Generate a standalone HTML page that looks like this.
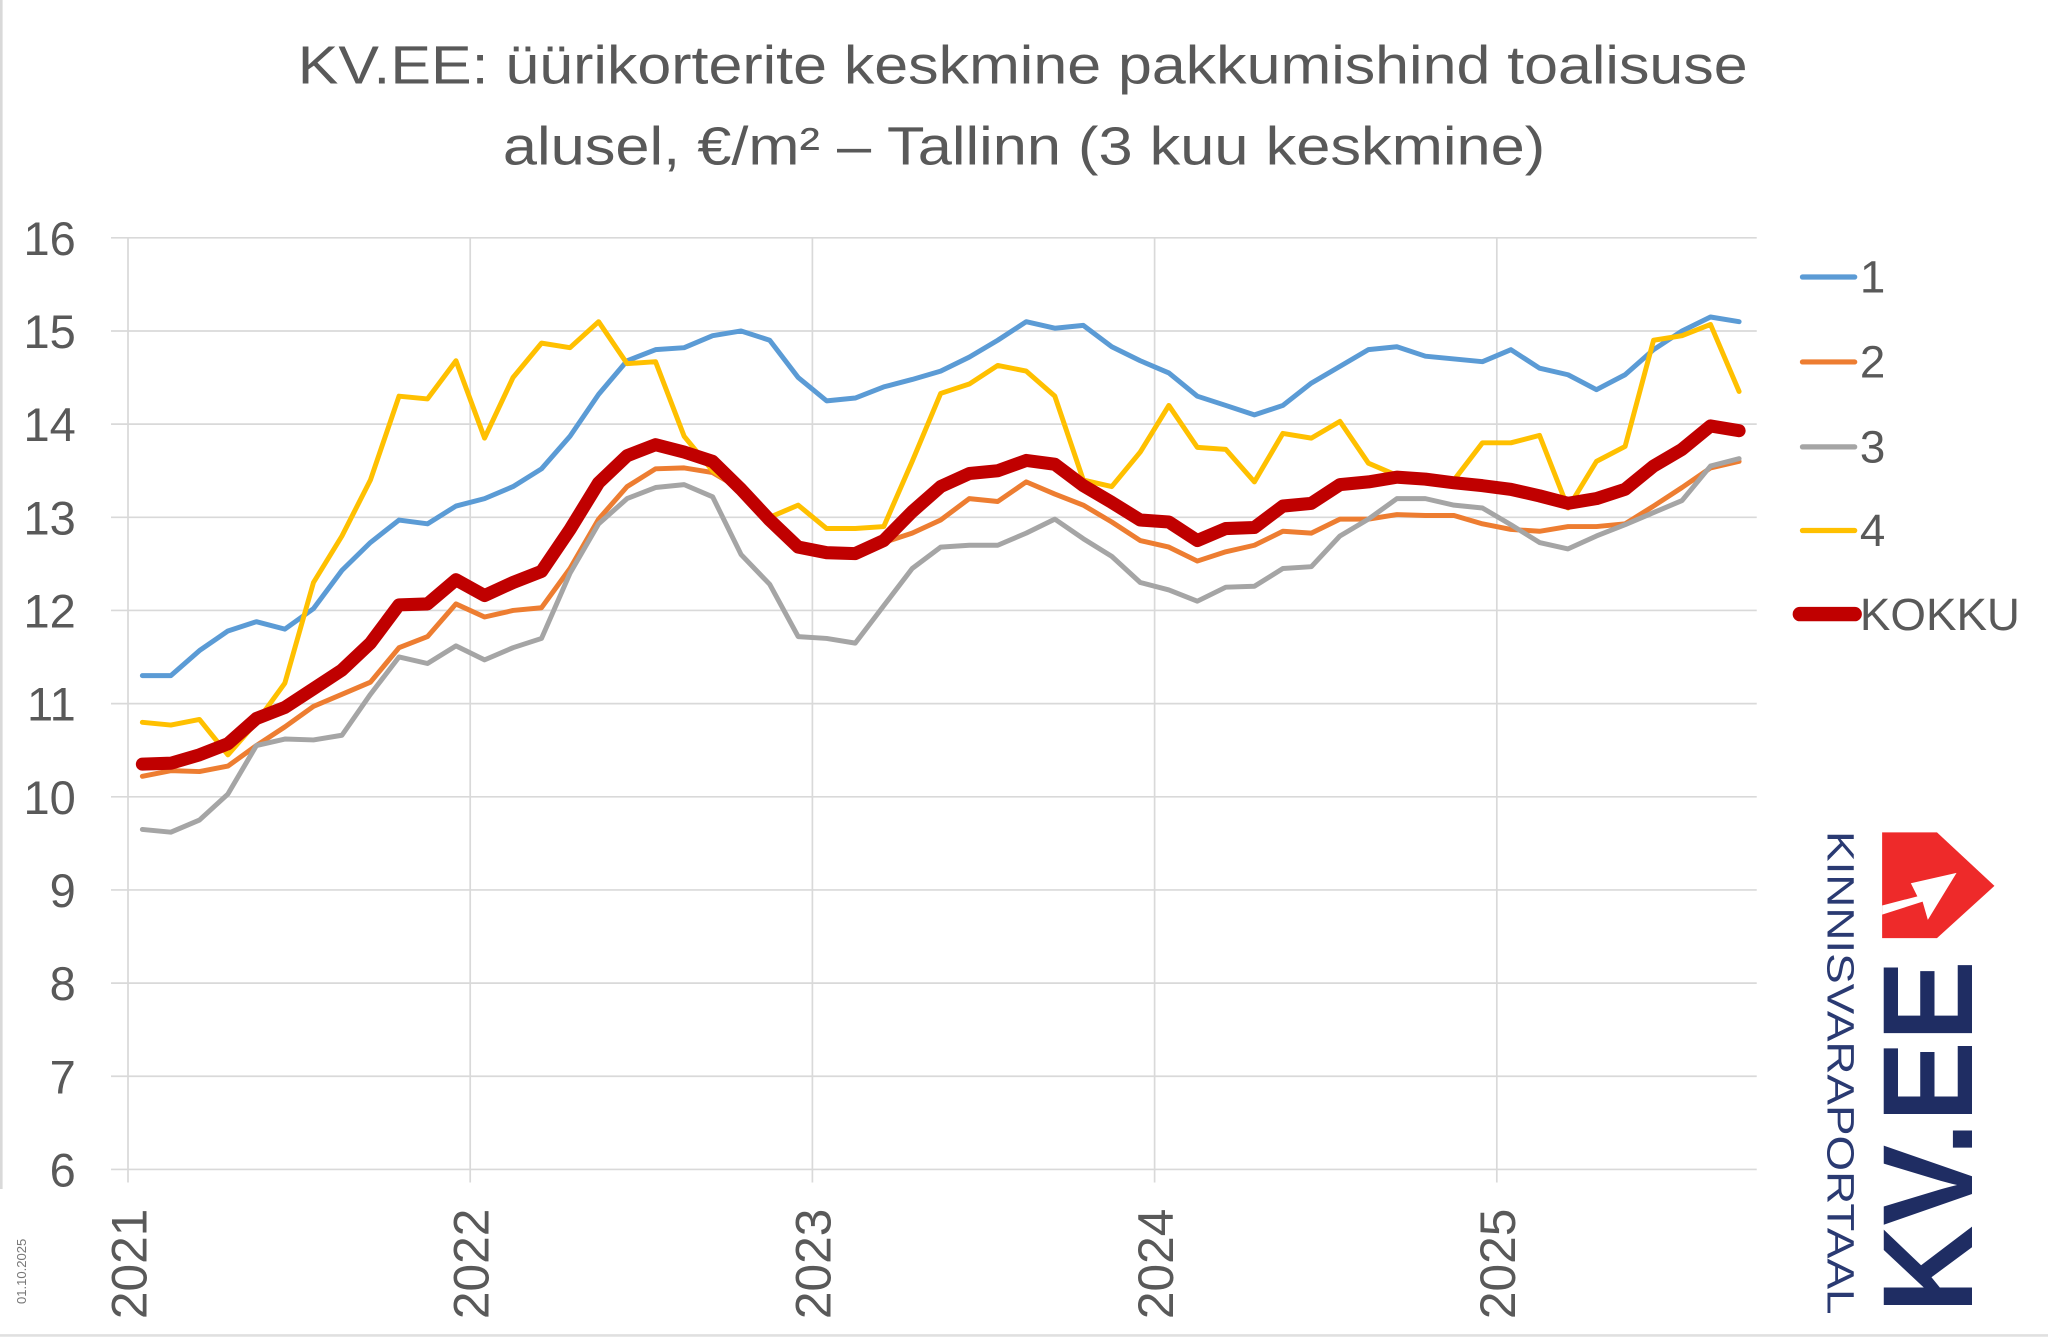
<!DOCTYPE html>
<html><head><meta charset="utf-8"><style>
html,body{margin:0;padding:0;background:#fff}
svg{display:block}
text{font-family:"Liberation Sans",sans-serif}
</style></head><body>
<svg id="s" width="2048" height="1338" viewBox="0 0 1568 1024" preserveAspectRatio="none">
<rect width="1568" height="1024" fill="#fff"/>
<line x1="1" y1="0" x2="1" y2="910" stroke="#d9d9d9" stroke-width="2"/>
<line x1="0" y1="1022" x2="1568" y2="1022" stroke="#e0e0e0" stroke-width="2"/>
<text x="228" y="64" font-size="41" fill="#595959" textLength="1110" lengthAdjust="spacingAndGlyphs">KV.EE: üürikorterite keskmine pakkumishind toalisuse</text>
<text x="385" y="126" font-size="41" fill="#595959" textLength="798" lengthAdjust="spacingAndGlyphs">alusel, €/m² – Tallinn (3 kuu keskmine)</text>
<g id="grid" stroke="#d9d9d9" stroke-width="1.3"></g>
<g id="ylab" font-size="36" fill="#595959" text-anchor="end"></g>
<g font-size="38" fill="#595959" text-anchor="end">
<text transform="translate(112,925) rotate(-90)">2021</text>
<text transform="translate(374,925) rotate(-90)">2022</text>
<text transform="translate(636,925) rotate(-90)">2023</text>
<text transform="translate(898,925) rotate(-90)">2024</text>
<text transform="translate(1160,925) rotate(-90)">2025</text>
</g>
<text transform="translate(20,998) rotate(-90)" font-size="10" fill="#777">01.10.2025</text>
<g id="series" fill="none" stroke-linejoin="round" stroke-linecap="round"></g>
<g stroke-linecap="round">
<line x1="1380" y1="212" x2="1420" y2="212" stroke="#5b9bd5" stroke-width="4"/>
<line x1="1380" y1="277" x2="1420" y2="277" stroke="#ed7d31" stroke-width="4"/>
<line x1="1380" y1="342" x2="1420" y2="342" stroke="#a5a5a5" stroke-width="4"/>
<line x1="1380" y1="406" x2="1420" y2="406" stroke="#ffc000" stroke-width="4"/>
<line x1="1378" y1="470" x2="1420" y2="470" stroke="#c00000" stroke-width="11"/>
</g>
<g font-size="35" fill="#595959">
<text x="1424" y="224">1</text><text x="1424" y="289">2</text><text x="1424" y="354">3</text><text x="1424" y="418">4</text><text x="1424" y="482">KOKKU</text>
</g>
<polygon points="1441,637 1483,637 1527,678 1483,718 1441,718" fill="#ee2a2a"/>
<polygon points="1441,700 1472,690 1476,704 1498,668 1463,676 1468,686 1441,693" fill="#fff"/>
<text transform="translate(1510,1005) rotate(-90)" font-size="98" font-weight="bold" fill="#1f2d63" textLength="270" lengthAdjust="spacingAndGlyphs">KV.EE</text>
<text transform="translate(1399,636) rotate(90)" font-size="29" fill="#2a3a72" textLength="370" lengthAdjust="spacingAndGlyphs">KINNISVARAPORTAAL</text>
</svg>
<script>
var NS="http://www.w3.org/2000/svg";
function el(p,t,a,txt){var e=document.createElementNS(NS,t);for(var k in a)e.setAttribute(k,a[k]);if(txt!=null)e.textContent=txt;p.appendChild(e);return e;}
var Y=function(v){return 182+(16-v)*71.3;};
var g=document.getElementById('grid'),yl=document.getElementById('ylab');
for(var v=6;v<=16;v++){el(g,'line',{x1:85,x2:1345,y1:Y(v),y2:Y(v)});el(yl,'text',{x:58,y:Y(v)+13},v);}
[98,360,622,884,1146].forEach(function(x){el(g,'line',{x1:x,x2:x,y1:182,y2:905});});
var d={
b:[11.3,11.3,11.57,11.78,11.88,11.8,12.02,12.43,12.73,12.97,12.93,13.12,13.2,13.33,13.52,13.87,14.32,14.68,14.8,14.82,14.95,15.0,14.9,14.5,14.25,14.28,14.4,14.48,14.57,14.72,14.9,15.1,15.03,15.06,14.83,14.68,14.55,14.3,14.2,14.1,14.2,14.44,14.62,14.8,14.83,14.73,14.7,14.67,14.8,14.6,14.53,14.37,14.53,14.8,15.0,15.15,15.1],
o:[10.22,10.28,10.27,10.33,10.55,10.75,10.97,11.1,11.23,11.6,11.72,12.07,11.93,12.0,12.03,12.45,12.98,13.33,13.52,13.53,13.48,13.3,13.0,12.7,12.62,12.62,12.73,12.83,12.97,13.2,13.17,13.38,13.25,13.13,12.95,12.75,12.68,12.53,12.63,12.7,12.85,12.83,12.98,12.98,13.03,13.02,13.02,12.93,12.87,12.85,12.9,12.9,12.93,13.12,13.32,13.53,13.6],
g:[9.65,9.62,9.75,10.03,10.55,10.62,10.61,10.66,11.1,11.5,11.43,11.62,11.47,11.6,11.7,12.4,12.93,13.2,13.32,13.35,13.22,12.6,12.28,11.72,11.7,11.65,12.05,12.45,12.68,12.7,12.7,12.83,12.98,12.77,12.58,12.3,12.22,12.1,12.25,12.26,12.45,12.47,12.8,12.98,13.2,13.2,13.13,13.1,12.92,12.73,12.66,12.8,12.92,13.05,13.18,13.55,13.63],
y:[10.8,10.77,10.83,10.45,10.8,11.22,12.3,12.8,13.4,14.3,14.27,14.68,13.85,14.5,14.87,14.82,15.1,14.65,14.67,13.87,13.5,13.3,13.0,13.13,12.88,12.88,12.9,13.6,14.33,14.43,14.63,14.57,14.3,13.4,13.33,13.7,14.2,13.75,13.73,13.38,13.9,13.85,14.03,13.58,13.45,13.38,13.4,13.8,13.8,13.88,13.1,13.6,13.76,14.9,14.95,15.07,14.35],
k:[10.35,10.36,10.45,10.57,10.84,10.96,11.16,11.36,11.65,12.06,12.07,12.33,12.16,12.3,12.42,12.87,13.37,13.66,13.78,13.7,13.6,13.3,12.97,12.68,12.62,12.61,12.75,13.06,13.33,13.47,13.5,13.61,13.57,13.34,13.16,12.97,12.95,12.75,12.88,12.89,13.12,13.15,13.35,13.38,13.43,13.41,13.37,13.34,13.3,13.23,13.15,13.2,13.3,13.55,13.73,13.98,13.93]};
var s=document.getElementById('series');
[['b','#5b9bd5',3.8],['o','#ed7d31',3.8],['g','#a5a5a5',3.8],['y','#ffc000',3.8],['k','#c00000',10]].forEach(function(a){
var pts=d[a[0]].map(function(v,i){return (109+21.83*i).toFixed(1)+','+Y(v).toFixed(1);}).join(' ');
el(s,'polyline',{points:pts,stroke:a[1],'stroke-width':a[2]});});
</script>
</body></html>
